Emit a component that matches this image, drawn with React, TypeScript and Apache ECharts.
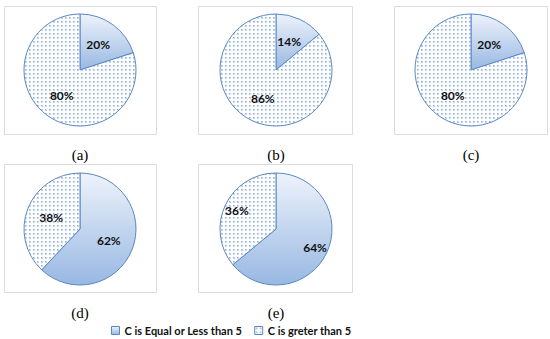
import React, { useEffect, useRef } from 'react';
import * as echarts from 'echarts';

// ---- data ----
const categories = ['C is Equal or Less than 5', 'C is greter than 5'];
const panelLabels = ['(a)', '(b)', '(c)', '(d)', '(e)'];
const valuesA = [20, 80];
const valuesB = [14, 86];
const valuesC = [20, 80];
const valuesD = [62, 38];
const valuesE = [64, 36];
const panelValues = [valuesA, valuesB, valuesC, valuesD, valuesE];

// ---- layout (positions / styles only) ----
const centers = [
  [80, 70],
  [276, 70],
  [471, 70],
  [80, 229],
  [276, 229],
];
const boxes = [
  [4, 6, 152, 128],
  [198, 6, 154, 128],
  [394, 6, 153, 128],
  [4, 164, 152, 128],
  [198, 164, 154, 128],
];
const captionY = [155, 155, 155, 313, 313];
const labelOffsets: (number[] | null)[][] = [
  [null, null],
  [null, null],
  [null, null],
  [null, null],
  [[11, 5], [-11, -5]],
];

function makeDots(): HTMLCanvasElement {
  const c = document.createElement('canvas');
  c.width = 4;
  c.height = 4;
  const ctx = c.getContext('2d')!;
  ctx.fillStyle = '#ffffff';
  ctx.fillRect(0, 0, 4, 4);
  ctx.fillStyle = '#c4d4ec';
  ctx.fillRect(1, 1, 2, 2);
  ctx.fillStyle = '#8eaedb';
  ctx.fillRect(1, 1, 1, 1);
  return c;
}

export default function App() {
  const ref = useRef<HTMLDivElement>(null);
  useEffect(() => {
    document.body.style.margin = '0';
    if (!ref.current) return;
    const chart = echarts.init(ref.current, undefined, { renderer: 'svg' });
    const dots = makeDots();
    const dotPattern: any = { image: dots, repeat: 'repeat', imageWidth: 4, imageHeight: 4 };
    const grad = new echarts.graphic.LinearGradient(0, 0, 0, 1, [
      { offset: 0, color: '#eef3fb' },
      { offset: 1, color: '#98b8e2' },
    ]);
    const fills = [grad, dotPattern];

    const graphics: any[] = [];
    boxes.forEach((b) => {
      graphics.push({
        type: 'rect',
        shape: { x: b[0] + 0.5, y: b[1] + 0.5, width: b[2], height: b[3] },
        style: { fill: 'none', stroke: '#dcdcdc', lineWidth: 1 },
        z: -1,
        silent: true,
      });
    });
    panelLabels.forEach((t, i) => {
      graphics.push({
        type: 'text',
        x: centers[i][0],
        y: captionY[i],
        style: {
          text: t,
          font: '15px "Liberation Serif"',
          fill: '#000',
          align: 'center',
          verticalAlign: 'middle',
        },
        silent: true,
      });
    });

    const series = panelValues.map((vals, i) => ({
      type: 'pie',
      center: centers[i],
      radius: 56,
      startAngle: 90,
      clockwise: true,
      silent: true,
      emphasis: { disabled: true },
      label: {
        show: true,
        position: 'inside',
        formatter: '{c}%',
        fontFamily: 'Lato',
        fontWeight: 'bold',
        fontSize: 12,
        color: '#111',
      },
      labelLine: { show: false },
      itemStyle: { borderColor: '#5a88c4', borderWidth: 1 },
      data: vals.map((v, j) => {
        const d: any = {
          name: categories[j],
          value: v,
          itemStyle: { color: fills[j] },
        };
        const off = labelOffsets[i][j];
        if (off) d.label = { offset: off };
        return d;
      }),
    }));

    chart.setOption({
      animation: false,
      legend: {
        data: categories,
        left: 106,
        top: 320,
        icon: 'rect',
        itemWidth: 8,
        itemHeight: 8,
        itemGap: 12,
        selectedMode: false,
        textStyle: { fontFamily: 'Lato', fontWeight: 'bold', fontSize: 11, color: '#111' },
        itemStyle: { borderColor: '#5a88c4', borderWidth: 1 },
      },
      graphic: graphics,
      series,
    } as any);
    return () => chart.dispose();
  }, []);
  return <div ref={ref} style={{ width: 550, height: 339, position: 'absolute', left: 0, top: 0, background: '#fff' }} />;
}
